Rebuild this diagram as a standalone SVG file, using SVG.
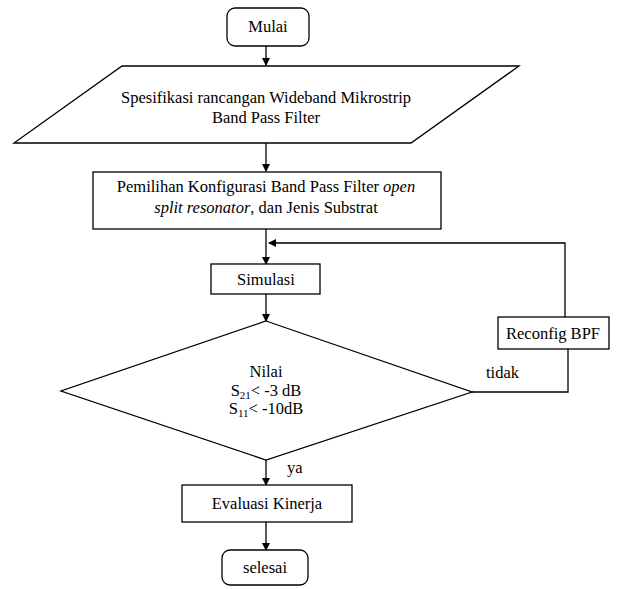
<svg xmlns="http://www.w3.org/2000/svg" width="640" height="589" viewBox="0 0 640 589">
<style>
.s{fill:#fff;stroke:#000;stroke-width:1.3}
.c{fill:none;stroke:#000;stroke-width:1.3}
text{font-family:"Liberation Serif","Times New Roman",Times,serif;font-size:16.5px;fill:#000;text-anchor:middle}
.l{text-anchor:start}
</style>
<defs>
<marker id="a" markerWidth="8" markerHeight="8" refX="7" refY="4" orient="auto" markerUnits="userSpaceOnUse">
<path d="M0,0 L8,4 L0,8 Z" fill="#000"/>
</marker>
</defs>
<rect width="640" height="589" fill="#fff"/>
<g id="connectors">
<line class="c" x1="266" y1="46" x2="266" y2="65" marker-end="url(#a)"/>
<line class="c" x1="266" y1="143" x2="266" y2="171" marker-end="url(#a)"/>
<line class="c" x1="266" y1="229" x2="266" y2="264" marker-end="url(#a)"/>
<polyline class="c" points="565,317 565,243 269,243" marker-end="url(#a)"/>
<line class="c" x1="266" y1="294" x2="266" y2="321" marker-end="url(#a)"/>
<polyline class="c" points="472,392 568,392 568,349"/>
<line class="c" x1="266" y1="460" x2="266" y2="485" marker-end="url(#a)"/>
<line class="c" x1="266" y1="522" x2="266" y2="550" marker-end="url(#a)"/>
<text class="l" x="486" y="378">tidak</text>
<text class="l" x="287" y="473">ya</text>
</g>
<g id="mulai">
<rect class="s" x="227" y="8" width="82" height="38" rx="8"/>
<text x="268" y="32">Mulai</text>
</g>
<g id="spesifikasi">
<polygon class="s" points="122,66 519,66 411,143 14,143"/>
<text x="266" y="103">Spesifikasi rancangan Wideband Mikrostrip</text>
<text x="266" y="123">Band Pass Filter</text>
</g>
<g id="pemilihan">
<rect class="s" x="93" y="172" width="348" height="57"/>
<text x="266" y="192">Pemilihan Konfigurasi Band Pass Filter <tspan font-style="italic">open</tspan></text>
<text x="266" y="213"><tspan font-style="italic">split resonator</tspan>, dan Jenis Substrat</text>
</g>
<g id="simulasi">
<rect class="s" x="211" y="264" width="109" height="30"/>
<text x="266" y="285">Simulasi</text>
</g>
<g id="keputusan">
<polygon class="s" points="266,321 472,392 266,460 61,391"/>
<text x="266" y="377">Nilai</text>
<text x="266" y="396">S<tspan font-size="11" dy="3">21</tspan><tspan dy="-3">&lt; -3 dB</tspan></text>
<text x="266" y="414">S<tspan font-size="11" dy="3">11</tspan><tspan dy="-3">&lt; -10dB</tspan></text>
</g>
<g id="reconfig">
<rect class="s" x="498" y="317" width="111" height="32"/>
<text x="553" y="339">Reconfig BPF</text>
</g>
<g id="evaluasi">
<rect class="s" x="182" y="485" width="170" height="37"/>
<text x="267" y="509">Evaluasi Kinerja</text>
</g>
<g id="selesai">
<rect class="s" x="222" y="550" width="86" height="35" rx="8"/>
<text x="265" y="573">selesai</text>
</g>
</svg>
